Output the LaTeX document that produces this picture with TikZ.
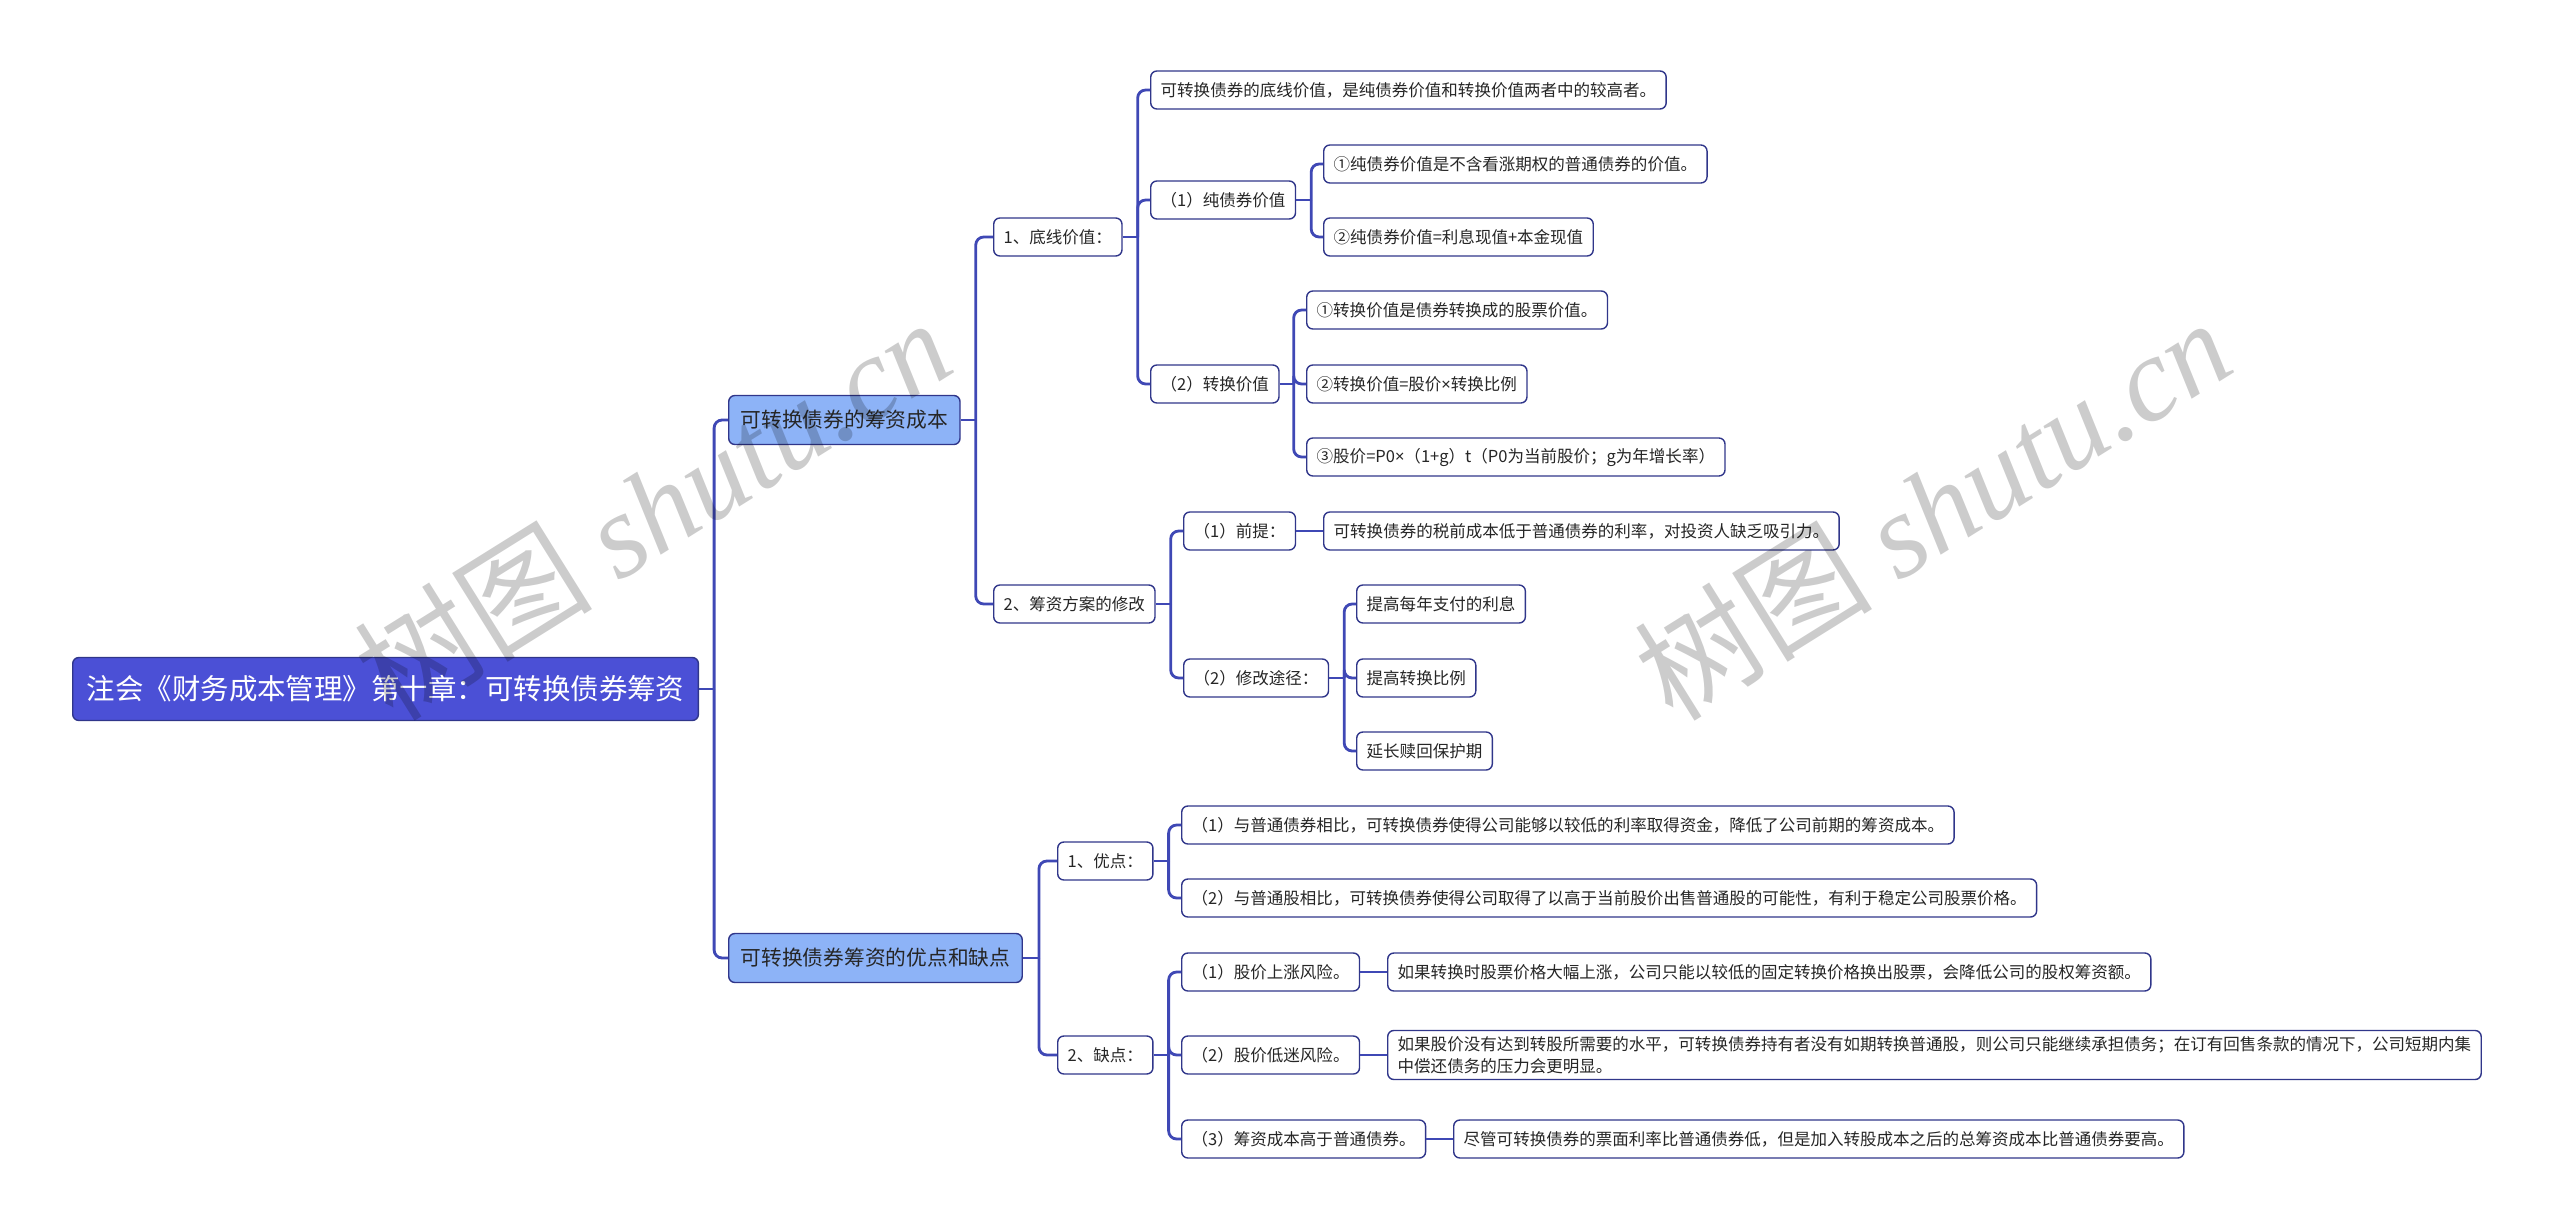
\documentclass[tikz,border=0pt]{standalone}
\usepackage{fontspec}
\setmainfont{Noto Sans CJK SC}
\newfontfamily\wmserif{Liberation Serif}
\newfontfamily\latinsans{Noto Sans}
\usepackage{tikz}
\usetikzlibrary{positioning}
\definecolor{rootfill}{HTML}{4B50D6}
\definecolor{topicfill}{HTML}{8DB3F7}
\definecolor{boxline}{HTML}{30368A}
\definecolor{linkblue}{HTML}{3F48B5}
\definecolor{leaftext}{HTML}{262626}
\newcommand{\ntimes}{{\latinsans ×}}

\begin{document}
\begin{tikzpicture}[x=0.02cm, y=-0.02cm, every node/.style={font=\fontsize{9.4}{12.5}\selectfont}]
\tikzstyle{root}=[draw=boxline, fill=rootfill, text=white, rounded corners=3.5pt, line width=0.8pt, minimum height=1.26cm, inner xsep=0.28cm, anchor=west, font=\fontsize{16.2}{19}\selectfont]
\tikzstyle{topic}=[draw=boxline, fill=topicfill, text=leaftext, rounded corners=3.5pt, line width=0.8pt, minimum height=0.98cm, inner xsep=0.24cm, anchor=west, font=\fontsize{11.8}{14}\selectfont]
\tikzstyle{leaf}=[draw=boxline, fill=white, text=leaftext, rounded corners=3.5pt, line width=0.8pt, minimum height=0.76cm, inner xsep=0.2cm, anchor=west, align=left]
\tikzstyle{link}=[draw=linkblue, line width=1.6pt, rounded corners=0.16cm]
\tikzstyle{watermark}=[text=black, opacity=0.2, rotate=32, font=\fontsize{68}{74}\selectfont]
\useasboundingbox (0,0) rectangle (2560,1230);
% root and main topics
\node[root] (root) at (72,689) {注会《财务成本管理》第十章：可转换债券筹资};
\node[topic] (cost) at (728,420) {可转换债券的筹资成本};
\node[topic] (procon) at (728,958) {可转换债券筹资的优点和缺点};
% financing cost
\node[leaf] (floor) at (993,237) {1、底线价值：};
\node[leaf] (plan) at (993,604) {2、筹资方案的修改};
\node[leaf] (floordef) at (1150,90) {可转换债券的底线价值，是纯债券价值和转换价值两者中的较高者。};
\node[leaf] (pure) at (1150,200) {（1）纯债券价值};
\node[leaf] (pureA) at (1323,164) {①纯债券价值是不含看涨期权的普通债券的价值。};
\node[leaf] (pureB) at (1323,237) {②纯债券价值=利息现值+本金现值};
\node[leaf] (conv) at (1150,384) {（2）转换价值};
\node[leaf] (convA) at (1306,310) {①转换价值是债券转换成的股票价值。};
\node[leaf] (convB) at (1306,384) {②转换价值=股价\ntimes 转换比例};
\node[leaf] (convC) at (1306,457) {③股价=P0\ntimes（1+g）t（P0为当前股价；g为年增长率）};
\node[leaf] (premise) at (1183,531) {（1）前提：};
\node[leaf] (premisetxt) at (1323,531) {可转换债券的税前成本低于普通债券的利率，对投资人缺乏吸引力。};
\node[leaf] (route) at (1183,678) {（2）修改途径：};
\node[leaf] (routeA) at (1356,604) {提高每年支付的利息};
\node[leaf] (routeB) at (1356,678) {提高转换比例};
\node[leaf] (routeC) at (1356,751) {延长赎回保护期};
% pros and cons
\node[leaf] (pros) at (1057,861) {1、优点：};
\node[leaf] (cons) at (1057,1055) {2、缺点：};
\node[leaf] (proA) at (1181,825) {（1）与普通债券相比，可转换债券使得公司能够以较低的利率取得资金，降低了公司前期的筹资成本。};
\node[leaf] (proB) at (1181,898) {（2）与普通股相比，可转换债券使得公司取得了以高于当前股价出售普通股的可能性，有利于稳定公司股票价格。};
\node[leaf] (conA) at (1181,972) {（1）股价上涨风险。};
\node[leaf] (conAtxt) at (1387,972) {如果转换时股票价格大幅上涨，公司只能以较低的固定转换价格换出股票，会降低公司的股权筹资额。};
\node[leaf] (conB) at (1181,1055) {（2）股价低迷风险。};
\node[leaf] (conBtxt) at (1387,1055) {如果股价没有达到转股所需要的水平，可转换债券持有者没有如期转换普通股，则公司只能继续承担债务；在订有回售条款的情况下，公司短期内集\\中偿还债务的压力会更明显。};
\node[leaf] (conC) at (1181,1139) {（3）筹资成本高于普通债券。};
\node[leaf] (conCtxt) at (1453,1139) {尽管可转换债券的票面利率比普通债券低，但是加入转股成本之后的总筹资成本比普通债券要高。};
% connectors
\draw[link] (root.east) -- ++(15,0) coordinate (jroot);
\draw[link] (jroot) |- (cost.west);
\draw[link] (jroot) |- (procon.west);
\draw[link] (cost.east) -- ++(15,0) coordinate (jcost);
\draw[link] (jcost) |- (floor.west);
\draw[link] (jcost) |- (plan.west);
\draw[link] (floor.east) -- ++(15,0) coordinate (jfloor);
\draw[link] (jfloor) |- (floordef.west);
\draw[link] (jfloor) |- (pure.west);
\draw[link] (jfloor) |- (conv.west);
\draw[link] (pure.east) -- ++(15,0) coordinate (jpure);
\draw[link] (jpure) |- (pureA.west);
\draw[link] (jpure) |- (pureB.west);
\draw[link] (conv.east) -- ++(14,0) coordinate (jconv);
\draw[link] (jconv) |- (convA.west);
\draw[link] (jconv) |- (convB.west);
\draw[link] (jconv) |- (convC.west);
\draw[link] (plan.east) -- ++(15,0) coordinate (jplan);
\draw[link] (jplan) |- (premise.west);
\draw[link] (jplan) |- (route.west);
\draw[link] (premise) -- (premisetxt);
\draw[link] (route.east) -- ++(15,0) coordinate (jroute);
\draw[link] (jroute) |- (routeA.west);
\draw[link] (jroute) |- (routeB.west);
\draw[link] (jroute) |- (routeC.west);
\draw[link] (procon.east) -- ++(16,0) coordinate (jprocon);
\draw[link] (jprocon) |- (pros.west);
\draw[link] (jprocon) |- (cons.west);
\draw[link] (pros.east) -- ++(15,0) coordinate (jpros);
\draw[link] (jpros) |- (proA.west);
\draw[link] (jpros) |- (proB.west);
\draw[link] (cons.east) -- ++(15,0) coordinate (jcons);
\draw[link] (jcons) |- (conA.west);
\draw[link] (jcons) |- (conB.west);
\draw[link] (jcons) |- (conC.west);
\draw[link] (conA) -- (conAtxt);
\draw[link] (conB) -- (conBtxt);
\draw[link] (conC) -- (conCtxt);
% watermarks
\node[watermark] (wmleft) at (652,508) {树图 {\wmserif\itshape shutu.cn}};
\node[watermark] (wmright) at (1932,508) {树图 {\wmserif\itshape shutu.cn}};
\end{tikzpicture}
\end{document}
